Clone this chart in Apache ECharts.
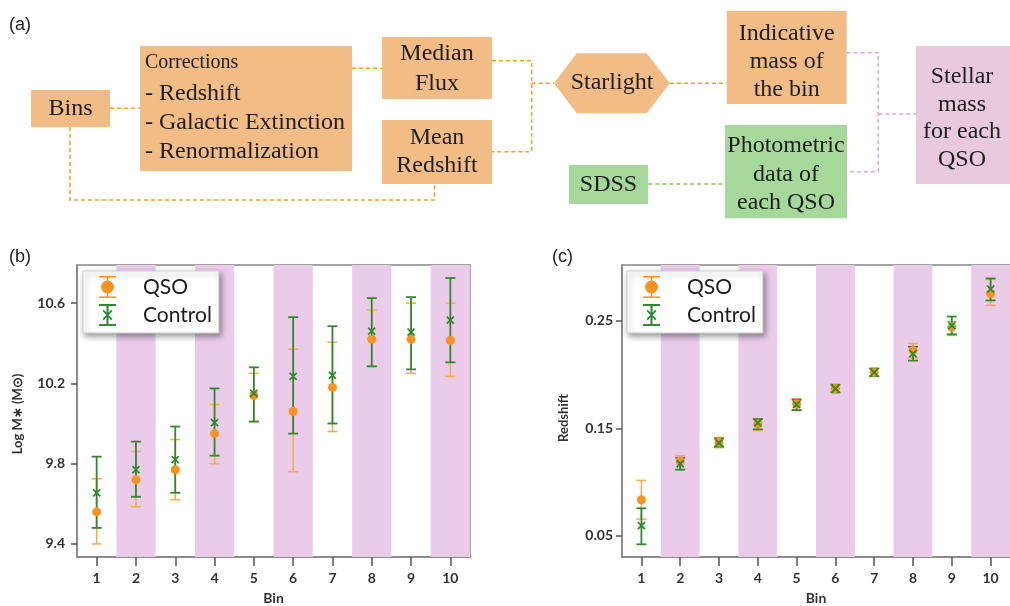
<!DOCTYPE html>
<html>
<head>
<meta charset="utf-8">
<script src="https://cdn.jsdelivr.net/npm/echarts@6/dist/echarts.min.js"></script>
<style>
html, body { margin: 0; padding: 0; background: #fff; }
#chart { width: 1010px; height: 606px; }
</style>
</head>
<body>
<div id="chart"></div>
<script>
// bins and shaded bins
var bins = [1, 2, 3, 4, 5, 6, 7, 8, 9, 10];
var bandBins = [2, 4, 6, 8, 10];

// (b) stellar mass, log M*
var massQso   = [9.56, 9.72, 9.77, 9.95, 10.14, 10.06, 10.18, 10.42, 10.42, 10.415];
var massQsoLo = [9.40, 9.585, 9.62, 9.80, 10.01, 9.76, 9.96, 10.285, 10.25, 10.235];
var massQsoHi = [9.725, 9.86, 9.92, 10.095, 10.25, 10.37, 10.405, 10.565, 10.60, 10.60];
var massCtl   = [9.655, 9.77, 9.82, 10.005, 10.15, 10.235, 10.24, 10.46, 10.455, 10.515];
var massCtlLo = [9.48, 9.635, 9.655, 9.84, 10.01, 9.95, 10.0, 10.285, 10.27, 10.305];
var massCtlHi = [9.835, 9.91, 9.985, 10.175, 10.28, 10.53, 10.485, 10.625, 10.63, 10.725];
var massTicks = [9.4, 9.8, 10.2, 10.6];

// (c) redshift
var zQso   = [0.0835, 0.1195, 0.137, 0.154, 0.1725, 0.187, 0.202, 0.2225, 0.244, 0.2755];
var zQsoLo = [0.0655, 0.1115, 0.132, 0.148, 0.1665, 0.183, 0.1985, 0.2155, 0.2365, 0.2645];
var zQsoHi = [0.1015, 0.1245, 0.1415, 0.159, 0.1775, 0.191, 0.206, 0.229, 0.2495, 0.2885];
var zCtl   = [0.0595, 0.117, 0.1365, 0.155, 0.172, 0.187, 0.202, 0.2195, 0.2455, 0.2795];
var zCtlLo = [0.042, 0.1115, 0.133, 0.149, 0.167, 0.1835, 0.1985, 0.213, 0.2375, 0.269];
var zCtlHi = [0.0755, 0.1225, 0.1405, 0.1585, 0.1765, 0.1905, 0.2055, 0.226, 0.254, 0.2895];
var zTicks = [0.05, 0.15, 0.25];

var ORANGE = '#f7931e';
var ORANGE_BAR = '#f8a94a';
var GREEN = '#2f8a2f';
var BAND = '#eacbea';
var BOX_OR = '#f2bc86';
var BOX_GR = '#a6d79b';
var BOX_PK = '#e8c9dd';

var chart = echarts.init(document.getElementById('chart'));

function zip3(a, b, c) {
	return bins.map(function(x, i) { return [x, a[i], b[i], c ? c[i] : 0]; });
}

function bandRender(params, api) {
	var b = api.value(0);
	var cs = params.coordSys;
	var x1 = api.coord([b - 0.5, 0])[0];
	var x2 = api.coord([b + 0.5, 0])[0];
	return { type: 'rect', shape: { x: x1, y: cs.y, width: x2 - x1, height: cs.height }, style: { fill: BAND } };
}

function errRender(color, width) {
	return function(params, api) {
		var x = api.value(0);
		var top = api.coord([x, api.value(2)]);
		var bot = api.coord([x, api.value(1)]);
		var w = 5;
		var st = { stroke: color, lineWidth: width };
		return {
			type: 'group',
			children: [
				{ type: 'line', shape: { x1: top[0], y1: top[1], x2: bot[0], y2: bot[1] }, style: st },
				{ type: 'line', shape: { x1: top[0] - w, y1: top[1], x2: top[0] + w, y2: top[1] }, style: st },
				{ type: 'line', shape: { x1: bot[0] - w, y1: bot[1], x2: bot[0] + w, y2: bot[1] }, style: st }
			]
		};
	};
}

function crossRender(params, api) {
	var p = api.coord([api.value(0), api.value(1)]);
	var s = 3.5;
	var st = { stroke: GREEN, lineWidth: 1.8 };
	return {
		type: 'group',
		children: [
			{ type: 'line', shape: { x1: p[0] - s, y1: p[1] - s, x2: p[0] + s, y2: p[1] + s }, style: st },
			{ type: 'line', shape: { x1: p[0] + s, y1: p[1] - s, x2: p[0] - s, y2: p[1] + s }, style: st }
		]
	};
}

var qsoIcon = 'path://M0,0h17v1.6h-17z M7.7,0h1.6v22h-1.6z M0,20.4h17v1.6h-17z M2,11a6.5,6.5 0 1,1 13,0a6.5,6.5 0 1,1 -13,0z';
var ctlIcon = 'path://M0,0h17v2h-17z M7.5,0h2v22h-2z M0,20h17v2h-17z M3.5,7L4.8,5.8L13.5,15L12.2,16.2z M12.2,5.8L13.5,7L4.8,16.2L3.5,15z';

function legendFor(left) {
	return {
		orient: 'vertical',
		left: left,
		top: 271,
		padding: [5, 7, 7, 16],
		itemWidth: 17,
		itemHeight: 22,
		itemGap: 6,
		backgroundColor: '#fff',
		borderColor: '#cfcfcf',
		borderWidth: 1,
		shadowBlur: 6,
		shadowColor: 'rgba(0,0,0,0.4)',
		shadowOffsetX: 2,
		shadowOffsetY: 3,
		selectedMode: false,
		textStyle: { fontFamily: 'Lato', fontSize: 21, color: '#1c1c1c', padding: [0, 0, 0, 22] },
		data: [
			{ name: 'QSO', icon: qsoIcon, itemStyle: { color: ORANGE } },
			{ name: 'Control', icon: ctlIcon, itemStyle: { color: GREEN } }
		]
	};
}

function xAxisFor(idx) {
	return {
		gridIndex: idx,
		type: 'value',
		min: 0.5,
		max: 10.5,
		name: 'Bin',
		nameLocation: 'middle',
		nameGap: 34,
		nameTextStyle: { fontFamily: 'Lato', fontWeight: 'bold', fontSize: 14, color: '#333' },
		splitLine: { show: false },
		axisLine: { lineStyle: { color: '#858585', width: 1.5 } },
		axisTick: { customValues: bins, length: 9, lineStyle: { color: '#555', width: 1.5 } },
		axisLabel: { customValues: bins, margin: 14, fontFamily: 'Lato', fontWeight: 'bold', fontSize: 14, color: '#333' }
	};
}

function yAxisFor(idx, min, max, ticks, name, gap, margin, digits, shift) {
	return {
		gridIndex: idx,
		type: 'value',
		min: min,
		max: max,
		name: name,
		nameLocation: 'middle',
		nameGap: gap,
		nameTextStyle: { fontFamily: 'Lato', fontWeight: 'bold', fontSize: 13, color: '#333', padding: [0, shift, 0, 0] },
		splitLine: { show: false },
		axisLine: { show: true, lineStyle: { color: '#858585', width: 1.5 } },
		axisTick: { customValues: ticks, length: 6, lineStyle: { color: '#555', width: 1.5 } },
		axisLabel: {
			customValues: ticks, margin: margin, fontFamily: 'Lato', fontWeight: 'bold', fontSize: 14, color: '#333',
			formatter: function(v) { return v.toFixed(digits); }
		}
	};
}

function panelSeries(idx, q, qlo, qhi, c, clo, chi) {
	return [
		{ type: 'custom', xAxisIndex: idx, yAxisIndex: idx, data: bandBins.map(function(b) { return [b]; }), renderItem: bandRender, z: 1, silent: true },
		{ type: 'custom', name: 'QSO', xAxisIndex: idx, yAxisIndex: idx, data: zip3(qlo, qhi), renderItem: errRender(ORANGE_BAR, 1.5), z: 2, itemStyle: { color: ORANGE } },
		{ type: 'custom', name: 'Control', xAxisIndex: idx, yAxisIndex: idx, data: zip3(clo, chi), renderItem: errRender(GREEN, 1.8), z: 3, itemStyle: { color: GREEN } },
		{ type: 'scatter', name: 'QSO', xAxisIndex: idx, yAxisIndex: idx, data: bins.map(function(x, i) { return [x, q[i]]; }), symbol: 'circle', symbolSize: 9, itemStyle: { color: ORANGE, opacity: 1 }, z: 4 },
		{ type: 'custom', name: 'Control', xAxisIndex: idx, yAxisIndex: idx, data: bins.map(function(x, i) { return [x, c[i]]; }), renderItem: crossRender, z: 5, itemStyle: { color: GREEN } }
	];
}

// flowchart helpers
var SERIF = '"Liberation Serif", "Times New Roman", serif';
function box(x, y, w, h, fill) {
	return { type: 'rect', shape: { x: x, y: y, width: w, height: h }, style: { fill: fill } };
}
function txt(x, y, text, size, align) {
	return {
		type: 'text', x: x, y: y,
		style: { text: text, font: size + 'px ' + SERIF, fill: '#1e1e1e', align: align || 'center', verticalAlign: 'middle', textAlign: align || 'center', textVerticalAlign: 'middle' }
	};
}
function dash(points, color) {
	return { type: 'polyline', shape: { points: points }, style: { stroke: color, lineWidth: 1.6, lineDash: [4, 3], fill: null } };
}
function panelTag(x, y, text) {
	return { type: 'text', x: x, y: y, style: { text: text, font: '18px "Liberation Sans", Arial, sans-serif', fill: '#222', align: 'left', verticalAlign: 'middle', textAlign: 'left', textVerticalAlign: 'middle' } };
}

var LINE_OR = '#f5a02e';
var LINE_GR = '#86c34a';
var LINE_PK = '#d9a9d8';

var flow = [
	panelTag(9, 25, '(a)'),
	panelTag(9, 257, '(b)'),
	panelTag(552, 257, '(c)'),

	dash([[110, 108.3], [140, 108.3]], LINE_OR),
	dash([[352, 68.3], [382, 68.3]], LINE_OR),
	dash([[70, 127], [70, 200], [434.5, 200], [434.5, 184]], LINE_OR),
	dash([[492, 60.7], [531.7, 60.7], [531.7, 151.7], [492, 151.7]], LINE_OR),
	dash([[531.7, 83.3], [554, 83.3]], LINE_OR),
	dash([[670, 83.3], [726.7, 83.3]], LINE_OR),
	dash([[648.3, 184], [725, 184]], LINE_GR),
	dash([[846.7, 52.7], [878.3, 52.7], [878.3, 171.7], [846.7, 171.7]], LINE_PK),
	dash([[878.3, 114], [916, 114]], LINE_PK),

	box(31, 90, 79, 37, BOX_OR),
	txt(70.5, 108.5, 'Bins', 24),

	box(140, 46, 212, 125, BOX_OR),
	txt(145, 63, 'Corrections', 20, 'left'),
	txt(145, 93.5, '- Redshift', 24, 'left'),
	txt(145, 122.5, '- Galactic Extinction', 24, 'left'),
	txt(145, 151.5, '- Renormalization', 24, 'left'),

	box(382, 37, 110, 62, BOX_OR),
	txt(437, 54, 'Median', 24),
	txt(437, 83.3, 'Flux', 24),

	box(382, 120, 110, 64, BOX_OR),
	txt(437, 137.5, 'Mean', 24),
	txt(437, 165.8, 'Redshift', 24),

	{ type: 'polygon', shape: { points: [[554, 83.3], [576.7, 53.3], [646.7, 53.3], [670, 83.3], [646.7, 113.3], [576.7, 113.3]] }, style: { fill: BOX_OR } },
	txt(612, 83, 'Starlight', 24),

	box(726.7, 10.7, 120, 93.3, BOX_OR),
	txt(786.7, 33.3, 'Indicative', 24),
	txt(786.7, 61.7, 'mass of', 24),
	txt(786.7, 90, 'the bin', 24),

	box(725, 125, 122, 93.3, BOX_GR),
	txt(786, 146, 'Photometric', 24),
	txt(786, 174.5, 'data of', 24),
	txt(786, 203, 'each QSO', 24),

	box(569, 165, 79, 39, BOX_GR),
	txt(608.5, 184.5, 'SDSS', 24),

	box(916, 46, 94, 138, BOX_PK),
	txt(962, 77, 'Stellar', 24),
	txt(962, 104.5, 'mass', 24),
	txt(962, 132, 'for each', 24),
	txt(962, 159.5, 'QSO', 24)
];

var option = {
	animation: false,
	backgroundColor: '#fff',
	textStyle: { fontFamily: 'Lato' },
	grid: [
		{ left: 77, top: 265, width: 393, height: 293, show: true, borderColor: '#858585', borderWidth: 1.5, backgroundColor: 'transparent' },
		{ left: 622, top: 265, width: 393, height: 293, show: true, borderColor: '#858585', borderWidth: 1.5, backgroundColor: 'transparent' }
	],
	legend: [legendFor(83), legendFor(627)],
	xAxis: [xAxisFor(0), xAxisFor(1)],
	yAxis: [
		yAxisFor(0, 9.335, 10.79, massTicks, 'Log M\u2217 (M\u2299)', 53, 12, 1, 6),
		yAxisFor(1, 0.0302, 0.302, zTicks, 'Redshift', 52, 9, 2, 14)
	],
	graphic: flow,
	series: [].concat(
		panelSeries(0, massQso, massQsoLo, massQsoHi, massCtl, massCtlLo, massCtlHi),
		panelSeries(1, zQso, zQsoLo, zQsoHi, zCtl, zCtlLo, zCtlHi)
	)
};

chart.setOption(option);
</script>
</body>
</html>
